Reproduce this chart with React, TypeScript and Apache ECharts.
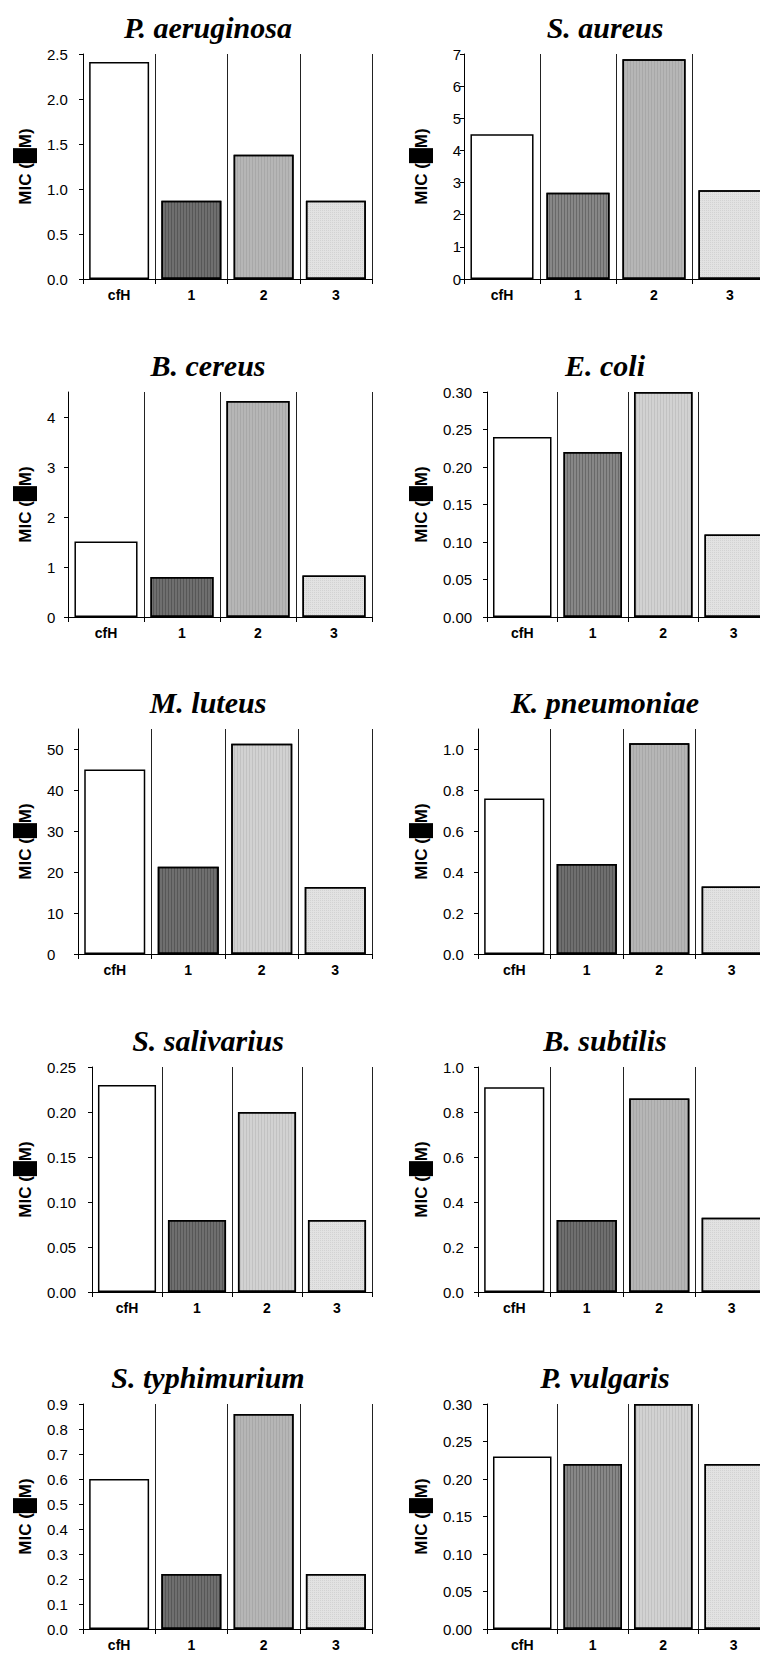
import React, { useEffect, useRef } from 'react';
import * as echarts from 'echarts';

// ---- data ----
const categories = ['cfH', '1', '2', '3'];
const titles = [
  'P. aeruginosa', 'S. aureus', 'B. cereus', 'E. coli', 'M. luteus',
  'K. pneumoniae', 'S. salivarius', 'B. subtilis', 'S. typhimurium', 'P. vulgaris',
];
const pAeruginosa = [2.41, 0.87, 1.38, 0.87];
const sAureus = [4.5, 2.68, 6.84, 2.76];
const bCereus = [1.51, 0.8, 4.32, 0.83];
const eColi = [0.24, 0.22, 0.3, 0.11];
const mLuteus = [45.1, 21.3, 51.4, 16.4];
const kPneumoniae = [0.76, 0.44, 1.03, 0.33];
const sSalivarius = [0.23, 0.08, 0.2, 0.08];
const bSubtilis = [0.91, 0.32, 0.86, 0.33];
const sTyphimurium = [0.6, 0.22, 0.86, 0.22];
const pVulgaris = [0.23, 0.22, 0.3, 0.22];

const ticksPA = [0, 0.5, 1.0, 1.5, 2.0, 2.5];
const ticksSA = [0, 1, 2, 3, 4, 5, 6, 7];
const ticksBC = [0, 1, 2, 3, 4];
const ticksEC = [0, 0.05, 0.1, 0.15, 0.2, 0.25, 0.3];
const ticksML = [0, 10, 20, 30, 40, 50];
const ticksKP = [0, 0.2, 0.4, 0.6, 0.8, 1.0];
const ticksSS = [0, 0.05, 0.1, 0.15, 0.2, 0.25];
const ticksBS = [0, 0.2, 0.4, 0.6, 0.8, 1.0];
const ticksST = [0, 0.1, 0.2, 0.3, 0.4, 0.5, 0.6, 0.7, 0.8, 0.9];
const ticksPV = [0, 0.05, 0.1, 0.15, 0.2, 0.25, 0.3];
const axisMax = [2.5, 7, 4.5, 0.3, 55, 1.1, 0.25, 1.0, 0.9, 0.3];
const tickDecimals = [1, 0, 0, 2, 0, 1, 2, 1, 1, 2];

const seriesValues = [
  pAeruginosa, sAureus, bCereus, eColi, mLuteus,
  kPneumoniae, sSalivarius, bSubtilis, sTyphimurium, pVulgaris,
];
const seriesTicks = [
  ticksPA, ticksSA, ticksBC, ticksEC, ticksML,
  ticksKP, ticksSS, ticksBS, ticksST, ticksPV,
];

// ---- layout / style ----
const layout = [
  { left: 83, top: 54, width: 289, col: 0 },
  { left: 464, top: 54, width: 304, col: 1 },
  { left: 68, top: 392, width: 304, col: 0 },
  { left: 487, top: 392, width: 282, col: 1 },
  { left: 78, top: 729, width: 294, col: 0 },
  { left: 478, top: 729, width: 290, col: 1 },
  { left: 92, top: 1067, width: 280, col: 0 },
  { left: 478, top: 1067, width: 290, col: 1 },
  { left: 83, top: 1404, width: 289, col: 0 },
  { left: 487, top: 1404, width: 282, col: 1 },
];
const PLOT_H = 225;
const lightBar2 = [3, 4, 6, 9];
const lightBar1 = [1, 3, 9];

const SANS = 'Liberation Sans, Arial, sans-serif';
const SERIF = 'Liberation Serif, Times New Roman, serif';

function barStyles(panel: number) {
  const c1 = lightBar1.includes(panel) ? '#878787' : '#6f6f6f';
  const c2 = lightBar2.includes(panel) ? '#d2d2d2' : '#b6b6b6';
  const base = { borderColor: '#000', borderWidth: 1.5 };
  return [
    { ...base, color: '#ffffff' },
    {
      ...base, color: c1,
      decal: { symbol: 'rect', symbolSize: 1, dashArrayX: [1, 2], dashArrayY: [10, 0], color: 'rgba(0,0,0,0.22)' },
    },
    {
      ...base, color: c2,
      decal: { symbol: 'rect', symbolSize: 1, dashArrayX: [1, 2], dashArrayY: [10, 0], color: 'rgba(0,0,0,0.08)' },
    },
    {
      ...base, color: '#e2e2e2',
      decal: { symbol: 'rect', symbolSize: 1, dashArrayX: [1, 1], dashArrayY: [1, 1], color: 'rgba(0,0,0,0.07)' },
    },
  ];
}

function buildOption() {
  const grid: any[] = [];
  const xAxis: any[] = [];
  const yAxis: any[] = [];
  const series: any[] = [];
  const title: any[] = [];

  layout.forEach((L, i) => {
    const nameCenterX = L.col === 0 ? 25 : 421;
    const labelAlign = i === 1 ? 'right' : 'left';
    const labelMargin = i === 1 ? 3 : L.left - (L.col === 0 ? 47 : 443);
    grid.push({ left: L.left, top: L.top, width: L.width, height: PLOT_H, containLabel: false, outerBoundsMode: 'none' });
    title.push({
      text: titles[i],
      left: L.col === 0 ? 203 : 600,
      top: L.top - 47,
      textAlign: 'center',
      textStyle: { fontFamily: SERIF, fontStyle: 'italic', fontWeight: 'bold', fontSize: 30, color: '#000' },
    });
    xAxis.push({
      type: 'category',
      gridIndex: i,
      data: categories,
      axisLine: { show: true, lineStyle: { color: '#000', width: 1 } },
      axisTick: { show: true, length: 5, lineStyle: { color: '#000' } },
      axisLabel: { fontFamily: SANS, fontWeight: 'bold', fontSize: 14, color: '#000', margin: 9 },
      splitLine: { show: true, interval: 0, lineStyle: { color: '#222', width: 1 } },
    });
    const dec = tickDecimals[i];
    yAxis.push({
      type: 'value',
      gridIndex: i,
      min: 0,
      max: axisMax[i],
      name: '{a|MIC (}{b|μ}{a|M)}',
      nameLocation: 'middle',
      nameGap: L.left - nameCenterX - 12,
      nameTextStyle: {
        fontFamily: SANS, fontWeight: 'bold', fontSize: 17, color: '#000',
        rich: {
          a: { fontFamily: SANS, fontWeight: 'bold', fontSize: 17, color: '#000', lineHeight: 24, height: 24, verticalAlign: 'middle' },
          b: { backgroundColor: '#000', color: '#000', width: 15, height: 24, lineHeight: 24, fontSize: 17, align: 'center', verticalAlign: 'middle' },
        },
      },
      axisLine: { show: true, lineStyle: { color: '#000', width: 1 } },
      axisTick: { show: true, length: 4, customValues: seriesTicks[i], lineStyle: { color: '#000' } },
      axisLabel: {
        customValues: seriesTicks[i],
        formatter: (v: number) => Number(v).toFixed(dec),
        fontFamily: SANS, fontSize: 15, color: '#000',
        align: labelAlign, margin: labelMargin,
      },
      splitLine: { show: false },
    });
    const styles = barStyles(i);
    series.push({
      type: 'bar',
      xAxisIndex: i,
      yAxisIndex: i,
      barCategoryGap: '17%',
      data: seriesValues[i].map((v, k) => ({ value: v, itemStyle: styles[k] })),
    });
  });

  return { animation: false, backgroundColor: '#fff', title, grid, xAxis, yAxis, series };
}

export default function App() {
  const ref = useRef<HTMLDivElement>(null);
  useEffect(() => {
    document.body.style.margin = '0';
    document.body.style.overflow = 'hidden';
    if (!ref.current) return;
    const chart = echarts.init(ref.current, null, { renderer: 'svg' });
    chart.setOption(buildOption() as any);
    return () => chart.dispose();
  }, []);
  return <div ref={ref} style={{ width: 760, height: 1659 }} />;
}
